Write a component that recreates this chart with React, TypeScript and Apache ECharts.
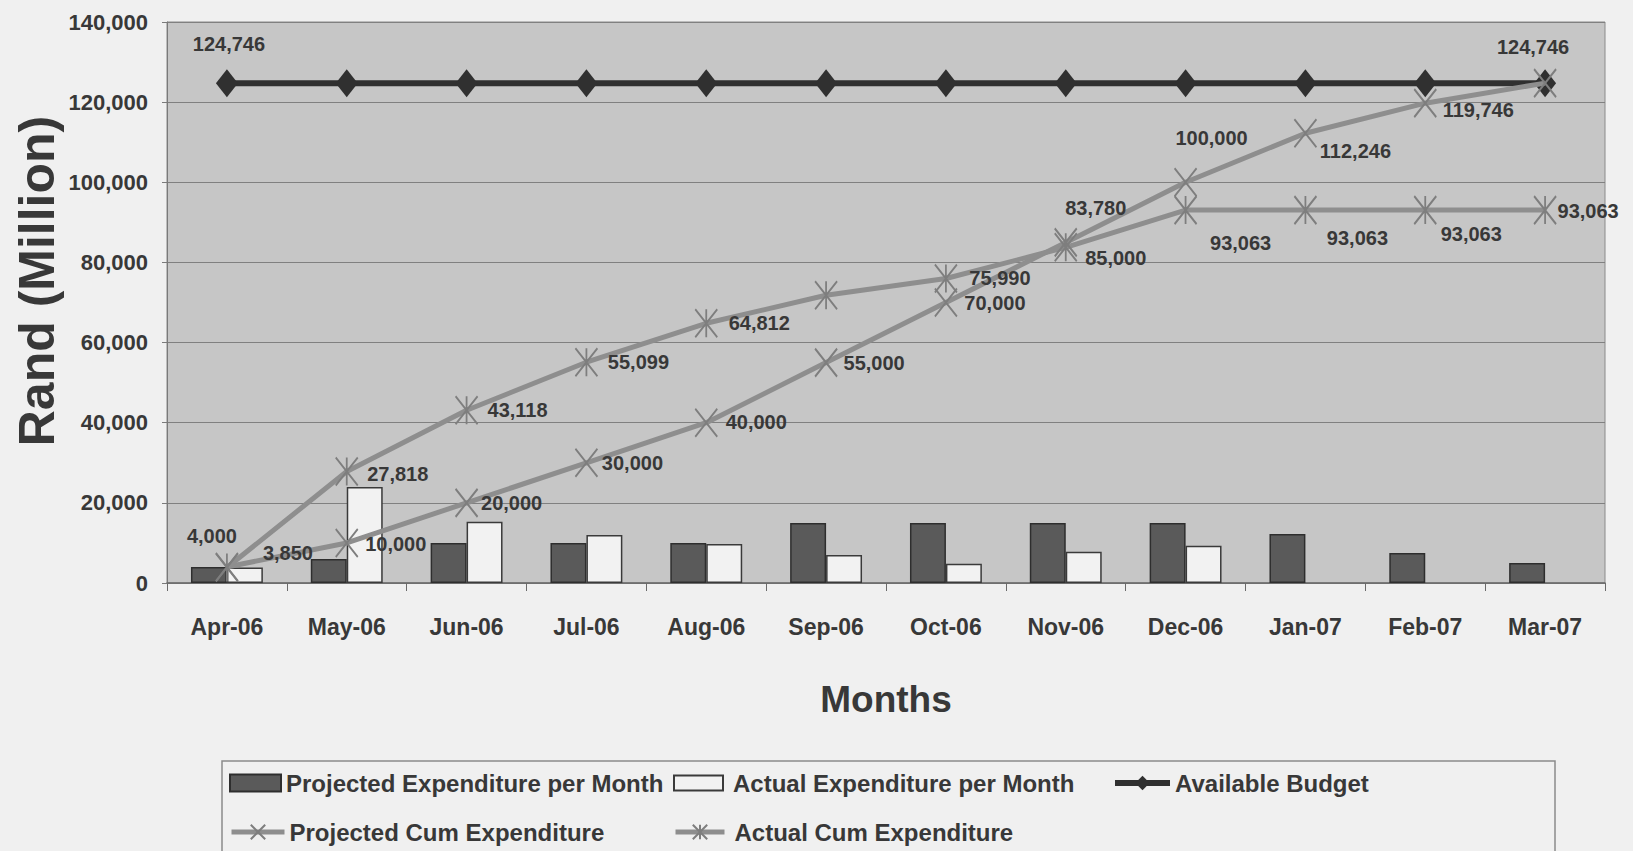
import React, { useEffect, useRef } from 'react';
import * as echarts from 'echarts';

// ---------- data ----------
const months = ['Apr-06', 'May-06', 'Jun-06', 'Jul-06', 'Aug-06', 'Sep-06', 'Oct-06', 'Nov-06', 'Dec-06', 'Jan-07', 'Feb-07', 'Mar-07'];
const projectedMonthly = [4000, 6000, 10000, 10000, 10000, 15000, 15000, 15000, 15000, 12246, 7500, 5000];
const actualMonthly: (number | null)[] = [3850, 23968, 15300, 11981, 9713, 7000, 4800, 7790, 9283, null, null, null];
const availableBudget = [124746, 124746, 124746, 124746, 124746, 124746, 124746, 124746, 124746, 124746, 124746, 124746];
const projectedCum = [4000, 10000, 20000, 30000, 40000, 55000, 70000, 85000, 100000, 112246, 119746, 124746];
const actualCum = [3850, 27818, 43118, 55099, 64812, 71812, 75990, 83780, 93063, 93063, 93063, 93063];
const yMin = 0;
const yMax = 140000;
const yStep = 20000;

// ---------- label placement (layout only) ----------
const projCumLabelOffset: (number[] | null)[] = [[-15, -31], [49, 1], [45, 0], [46, 0], [50, -1], [48, 0], [49, 0], [50, 16], [26, -44], [50, 18], [53, 7], null];
const actualCumLabelOffset: (number[] | null)[] = [[61, -15], [51, 2], [51, 0], [52, 0], [53, 0], null, [54, 0], [30, -39], [55, 33], [52, 28], [46, 24], [43, 1]];
const budgetLabelOffset: (number[] | null)[] = [[2, -39], null, null, null, null, null, null, null, null, null, null, [-12, -36]];

const FONT = '"Liberation Sans", Arial, sans-serif';
const TEXT = '#383838';

const fmt = (v: number) => v.toLocaleString('en-US');

function withLabels(values: number[], offsets: (number[] | null)[]) {
  return values.map((v, i) => {
    const off = offsets[i];
    if (!off) return { value: v };
    return {
      value: v,
      label: {
        show: true,
        position: 'inside',
        offset: off,
        formatter: () => fmt(v),
        fontFamily: FONT,
        fontWeight: 'bold',
        fontSize: 20,
        color: TEXT,
      },
    };
  });
}

const crossPath = 'path://M0,0L20,24M20,0L0,24';
const starPath = 'path://M0,0L20,24M20,0L0,24M10,0L10,24';

export default function App() {
  const ref = useRef<HTMLDivElement>(null);
  useEffect(() => {
    if (!ref.current) return;
    const chart = echarts.init(ref.current, undefined, { renderer: 'svg' });
    const legendText = { fontFamily: FONT, fontWeight: 'bold', fontSize: 24, color: TEXT };
    const legendBase = { orient: 'horizontal', padding: 0, textStyle: legendText, selectedMode: false };
    chart.setOption({
      animation: false,
      backgroundColor: '#f0f0f0',
      grid: {
        left: 167,
        right: 28,
        top: 22,
        bottom: 268,
        show: true,
        backgroundColor: '#c6c6c6',
        borderColor: '#8a8a8a',
        borderWidth: 1,
      },
      xAxis: {
        type: 'category',
        data: months,
        name: 'Months',
        nameLocation: 'middle',
        nameGap: 98,
        nameTextStyle: { fontFamily: FONT, fontWeight: 'bold', fontSize: 37, color: TEXT },
        axisLine: { show: true, lineStyle: { color: '#6a6a6a', width: 1.5 } },
        axisTick: { show: true, length: 8, lineStyle: { color: '#6a6a6a' } },
        axisLabel: { margin: 32, fontFamily: FONT, fontWeight: 'bold', fontSize: 23, color: TEXT },
      },
      yAxis: {
        type: 'value',
        min: yMin,
        max: yMax,
        interval: yStep,
        axisLine: { show: true, lineStyle: { color: '#7a7a7a' } },
        axisTick: { show: true, length: 5, lineStyle: { color: '#7a7a7a' } },
        axisLabel: { margin: 19, formatter: (v: number) => fmt(v), fontFamily: FONT, fontWeight: 'bold', fontSize: 22, color: TEXT },
        splitLine: { show: true, lineStyle: { color: '#808080', width: 1.2 } },
      },
      legend: [
        { ...legendBase, data: ['Projected Expenditure per Month'], left: 229, top: 771, icon: 'rect', itemWidth: 51, itemHeight: 17 },
        { ...legendBase, data: ['Actual Expenditure per Month'], left: 673, top: 771, icon: 'rect', itemWidth: 49, itemHeight: 15, textStyle: { ...legendText, padding: [0, 0, 0, 5] } },
        { ...legendBase, data: ['Available Budget'], left: 1112, top: 771, itemWidth: 55, itemHeight: 18, lineStyle: { width: 6 } },
        { ...legendBase, data: ['Projected Cum Expenditure'], left: 229, top: 820, itemWidth: 53, itemHeight: 18, lineStyle: { width: 5 } },
        { ...legendBase, data: ['Actual Cum Expenditure'], left: 673, top: 820, itemWidth: 49, itemHeight: 18, lineStyle: { width: 5 }, textStyle: { ...legendText, padding: [0, 0, 0, 5] } },
      ],
      graphic: [
        {
          type: 'rect',
          shape: { x: 222, y: 761, width: 1333, height: 130 },
          style: { fill: 'none', stroke: '#8a8a8a', lineWidth: 1.5 },
          silent: true,
        },
        {
          type: 'text',
          x: 37,
          y: 281,
          rotation: Math.PI / 2,
          style: {
            text: 'Rand (Million)',
            fontFamily: FONT,
            fontWeight: 'bold',
            fontSize: 50,
            fill: TEXT,
            textAlign: 'center',
            textVerticalAlign: 'middle',
          },
          silent: true,
        },
      ],
      series: [
        {
          name: 'Projected Expenditure per Month',
          type: 'bar',
          data: projectedMonthly,
          barGap: '0%',
          barCategoryGap: '40%',
          itemStyle: { color: '#5a5a5a', borderColor: '#2e2e2e', borderWidth: 1.5 },
          z: 2,
        },
        {
          name: 'Actual Expenditure per Month',
          type: 'bar',
          data: actualMonthly,
          barGap: '0%',
          barCategoryGap: '40%',
          itemStyle: { color: '#f2f2f2', borderColor: '#3a3a3a', borderWidth: 1.5 },
          z: 2,
        },
        {
          name: 'Available Budget',
          type: 'line',
          data: withLabels(availableBudget, budgetLabelOffset),
          symbol: 'diamond',
          symbolSize: [22, 28],
          lineStyle: { color: '#303030', width: 6 },
          itemStyle: { color: '#303030' },
          label: { show: false },
          z: 3,
        },
        {
          name: 'Projected Cum Expenditure',
          type: 'line',
          data: withLabels(projectedCum, projCumLabelOffset),
          symbol: crossPath,
          symbolSize: [22, 28],
          lineStyle: { color: '#8e8e8e', width: 5 },
          itemStyle: { color: '#8e8e8e', borderColor: '#7e7e7e', borderWidth: 2 },
          label: { show: false },
          z: 4,
        },
        {
          name: 'Actual Cum Expenditure',
          type: 'line',
          data: withLabels(actualCum, actualCumLabelOffset),
          symbol: starPath,
          symbolSize: [22, 28],
          lineStyle: { color: '#8e8e8e', width: 5 },
          itemStyle: { color: '#8e8e8e', borderColor: '#7e7e7e', borderWidth: 2 },
          label: { show: false },
          z: 4,
        },
      ],
    });
    return () => chart.dispose();
  }, []);
  return (
    <div
      ref={ref}
      style={{ position: 'absolute', left: 0, top: 0, width: 1633, height: 851, background: '#f0f0f0' }}
    />
  );
}
